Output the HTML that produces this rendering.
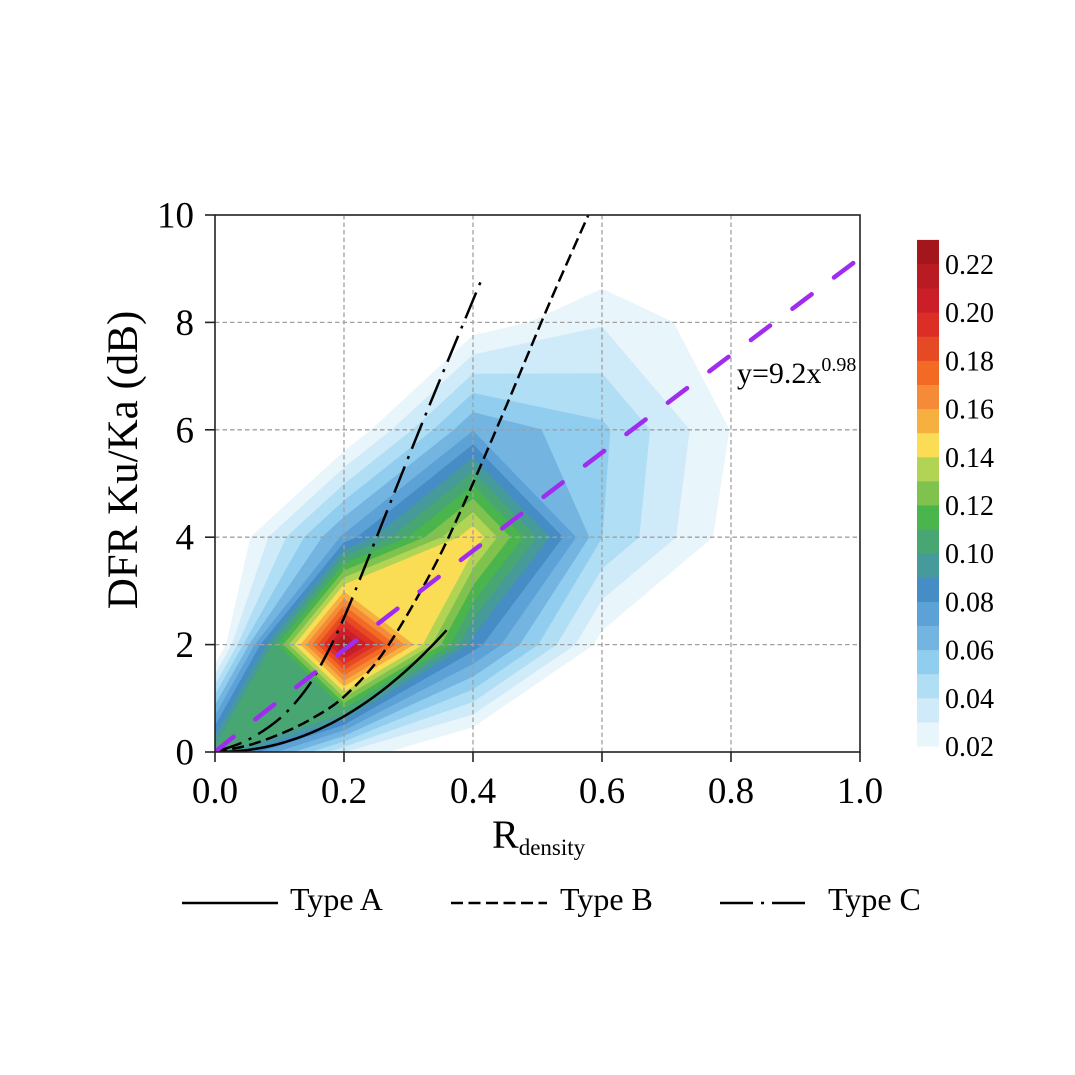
<!DOCTYPE html>
<html><head><meta charset="utf-8">
<style>
html,body{margin:0;padding:0;background:#fff;}
svg{display:block;}
text{font-family:"Liberation Serif","Times New Roman",serif;fill:#000;}
</style></head>
<body>
<svg id="s" width="1075" height="1075" viewBox="0 0 1075 1075" xmlns="http://www.w3.org/2000/svg">
<defs><clipPath id="cp"><rect x="215" y="215" width="645" height="537"/></clipPath></defs>
<rect x="0" y="0" width="1075" height="1075" fill="#fff"/>
<g id="cf" clip-path="url(#cp)"></g>
<g stroke="#a0a0a0" stroke-width="1.3" stroke-dasharray="4.5,3" fill="none">
<line x1="344" y1="215" x2="344" y2="752"/>
<line x1="473" y1="215" x2="473" y2="752"/>
<line x1="602" y1="215" x2="602" y2="752"/>
<line x1="731" y1="215" x2="731" y2="752"/>
<line x1="215" y1="322.4" x2="860" y2="322.4"/>
<line x1="215" y1="429.8" x2="860" y2="429.8"/>
<line x1="215" y1="537.2" x2="860" y2="537.2"/>
<line x1="215" y1="644.6" x2="860" y2="644.6"/>
</g>
<g clip-path="url(#cp)">
<path id="cA" d="" fill="none" stroke="#000" stroke-width="2.5"/>
<path id="cB" d="" fill="none" stroke="#000" stroke-width="2.5" stroke-dasharray="12,5.5"/>
<path id="cC" d="" fill="none" stroke="#000" stroke-width="2.5" stroke-dasharray="28,8,3,8"/>
<path id="cP" d="" fill="none" stroke="#a02cf0" stroke-width="4.5" stroke-linecap="round" stroke-dasharray="24,28"/>
</g>
<text x="737" y="383" font-size="30">y=9.2x<tspan font-size="20" dy="-12">0.98</tspan></text>
<rect x="215" y="215" width="645" height="537" fill="none" stroke="#222" stroke-width="1.6"/>
<g stroke="#222" stroke-width="1.6">
<line x1="205" y1="752" x2="215" y2="752"/>
<line x1="205" y1="644.6" x2="215" y2="644.6"/>
<line x1="205" y1="537.2" x2="215" y2="537.2"/>
<line x1="205" y1="429.8" x2="215" y2="429.8"/>
<line x1="205" y1="322.4" x2="215" y2="322.4"/>
<line x1="205" y1="215" x2="215" y2="215"/>
<line x1="215" y1="752" x2="215" y2="762"/>
<line x1="344" y1="752" x2="344" y2="762"/>
<line x1="473" y1="752" x2="473" y2="762"/>
<line x1="602" y1="752" x2="602" y2="762"/>
<line x1="731" y1="752" x2="731" y2="762"/>
<line x1="860" y1="752" x2="860" y2="762"/>
</g>
<g font-size="37" text-anchor="end">
<text x="194" y="764.5">0</text>
<text x="194" y="657.1">2</text>
<text x="194" y="549.7">4</text>
<text x="194" y="442.3">6</text>
<text x="194" y="334.9">8</text>
<text x="194" y="227.5">10</text>
</g>
<g font-size="37" text-anchor="middle">
<text x="215" y="803">0.0</text>
<text x="344" y="803">0.2</text>
<text x="473" y="803">0.4</text>
<text x="602" y="803">0.6</text>
<text x="731" y="803">0.8</text>
<text x="860" y="803">1.0</text>
</g>
<text x="492" y="848" font-size="40">R<tspan font-size="23" dy="7">density</tspan></text>
<text transform="translate(137,460) rotate(-90)" text-anchor="middle" font-size="43">DFR Ku/Ka (dB)</text>
<g id="cbar">
<rect x="917" y="721.9" width="22" height="24.6" fill="#e8f5fb"/>
<rect x="917" y="697.8" width="22" height="24.6" fill="#cfeaf8"/>
<rect x="917" y="673.7" width="22" height="24.6" fill="#b0def4"/>
<rect x="917" y="649.6" width="22" height="24.6" fill="#90cdee"/>
<rect x="917" y="625.5" width="22" height="24.6" fill="#74b4e0"/>
<rect x="917" y="601.4" width="22" height="24.6" fill="#5ca2d6"/>
<rect x="917" y="577.3" width="22" height="24.6" fill="#458dc4"/>
<rect x="917" y="553.2" width="22" height="24.6" fill="#469a99"/>
<rect x="917" y="529.1" width="22" height="24.6" fill="#48a673"/>
<rect x="917" y="505.0" width="22" height="24.6" fill="#4ab54d"/>
<rect x="917" y="480.9" width="22" height="24.6" fill="#7fc24d"/>
<rect x="917" y="456.8" width="22" height="24.6" fill="#b1d455"/>
<rect x="917" y="432.7" width="22" height="24.6" fill="#fbdc55"/>
<rect x="917" y="408.6" width="22" height="24.6" fill="#f6b040"/>
<rect x="917" y="384.5" width="22" height="24.6" fill="#f58b37"/>
<rect x="917" y="360.4" width="22" height="24.6" fill="#f26a24"/>
<rect x="917" y="336.3" width="22" height="24.6" fill="#e64a24"/>
<rect x="917" y="312.2" width="22" height="24.6" fill="#dc2e26"/>
<rect x="917" y="288.1" width="22" height="24.6" fill="#cc1e28"/>
<rect x="917" y="264.0" width="22" height="24.6" fill="#b81b22"/>
<rect x="917" y="239.9" width="22" height="24.1" fill="#a3171c"/>
</g>
<g font-size="28">
<text x="945" y="756">0.02</text>
<text x="945" y="707.8">0.04</text>
<text x="945" y="659.6">0.06</text>
<text x="945" y="611.4">0.08</text>
<text x="945" y="563.2">0.10</text>
<text x="945" y="515">0.12</text>
<text x="945" y="466.8">0.14</text>
<text x="945" y="418.6">0.16</text>
<text x="945" y="370.4">0.18</text>
<text x="945" y="322.2">0.20</text>
<text x="945" y="274">0.22</text>
</g>
<g stroke="#000" stroke-width="2.5" fill="none">
<line x1="182" y1="903" x2="278" y2="903"/>
<line x1="451" y1="903" x2="547" y2="903" stroke-dasharray="12,5.5"/>
<line x1="720" y1="903" x2="812" y2="903" stroke-dasharray="33,8,3,8"/>
</g>
<g font-size="32">
<text x="290" y="910">Type A</text>
<text x="560" y="910">Type B</text>
<text x="828" y="910">Type C</text>
</g>
</svg>
<script>
(function(){
var X=[0,0.2,0.4,0.6,0.8,1.0],Y=[0,2,4,6,8,10];
var Z=[[0.105,0.03,0,0,0,0],
       [0,0.225,0.085,0.0153,0,0],
       [0,0.072,0.148,0.05,0.015,0],
       [0,0.0067,0.069,0.052,0.0195,0],
       [0,0,0.013,0.029,0.0127,0],
       [0,0,0,0,0,0]];
var C=['#e8f5fb','#cfeaf8','#b0def4','#90cdee','#74b4e0','#5ca2d6','#458dc4','#469a99','#48a673','#4ab54d','#7fc24d','#b1d455','#fbdc55','#f6b040','#f58b37','#f26a24','#e64a24','#dc2e26','#cc1e28','#b81b22','#a3171c'];
function px(x){return 215+645*x;}
function py(y){return 752-53.7*y;}
var h='';
for(var k=0;k<21;k++){
  var L=0.02+0.01*k-1e-9;
  for(var j=0;j<5;j++){for(var i=0;i<5;i++){
    var cs=[[i,j],[i+1,j],[i+1,j+1],[i,j+1]];
    var pts=[];
    for(var c=0;c<4;c++){
      var a=cs[c],b=cs[(c+1)%4];
      var va=Z[a[1]][a[0]],vb=Z[b[1]][b[0]];
      if(va>=L)pts.push([X[a[0]],Y[a[1]]]);
      if((va>=L)!=(vb>=L)){
        var t=(L-va)/(vb-va);
        pts.push([X[a[0]]+(X[b[0]]-X[a[0]])*t,Y[a[1]]+(Y[b[1]]-Y[a[1]])*t]);
      }
    }
    if(pts.length>=3){
      var s=[];
      for(var m=0;m<pts.length;m++){s.push(px(pts[m][0]).toFixed(2)+','+py(pts[m][1]).toFixed(2));}
      h+='<polygon points="'+s.join(' ')+'" fill="'+C[k]+'" stroke="'+C[k]+'" stroke-width="0.8" stroke-linejoin="round"/>';
    }
  }}
}
document.getElementById('cf').innerHTML=h;

function cr(P){
  var q=P.map(function(p){return [px(p[0]),py(p[1])];});
  var d='M'+q[0][0].toFixed(2)+','+q[0][1].toFixed(2);
  for(var i=0;i<q.length-1;i++){
    var p0=q[i-1]||q[i],p1=q[i],p2=q[i+1],p3=q[i+2]||q[i+1];
    var c1=[p1[0]+(p2[0]-p0[0])/6,p1[1]+(p2[1]-p0[1])/6];
    var c2=[p2[0]-(p3[0]-p1[0])/6,p2[1]-(p3[1]-p1[1])/6];
    d+=' C'+c1[0].toFixed(2)+','+c1[1].toFixed(2)+' '+c2[0].toFixed(2)+','+c2[1].toFixed(2)+' '+p2[0].toFixed(2)+','+p2[1].toFixed(2);
  }
  return d;
}
function poly(P){
  var d='';
  for(var i=0;i<P.length;i++){d+=(i?' L':'M')+px(P[i][0]).toFixed(2)+','+py(P[i][1]).toFixed(2);}
  return d;
}
var A=[];
for(var i=0;i<=60;i++){var x=0.359*i/60;A.push([x,19.5*Math.pow(x,2.1)]);}
document.getElementById('cA').setAttribute('d',poly(A));
var B=[[0,0],[0.05,0.12],[0.1,0.33],[0.147,0.6],[0.2,1.03],[0.261,1.85],[0.333,3.3],[0.385,4.6],[0.45,6.4],[0.52,8.4],[0.59,10.3]];
document.getElementById('cB').setAttribute('d',cr(B));
var Cc=[[0,0],[0.05,0.22],[0.1,0.62],[0.14,1.15],[0.17,1.75],[0.2,2.5],[0.234,3.5],[0.317,6],[0.385,7.98],[0.413,8.79]];
document.getElementById('cC').setAttribute('d',cr(Cc));
var P=[];
for(var i=0;i<=100;i++){var x=i/100;P.push([x,9.2*Math.pow(x,0.98)]);}
document.getElementById('cP').setAttribute('d',poly(P));
})();
</script>
</body></html>
